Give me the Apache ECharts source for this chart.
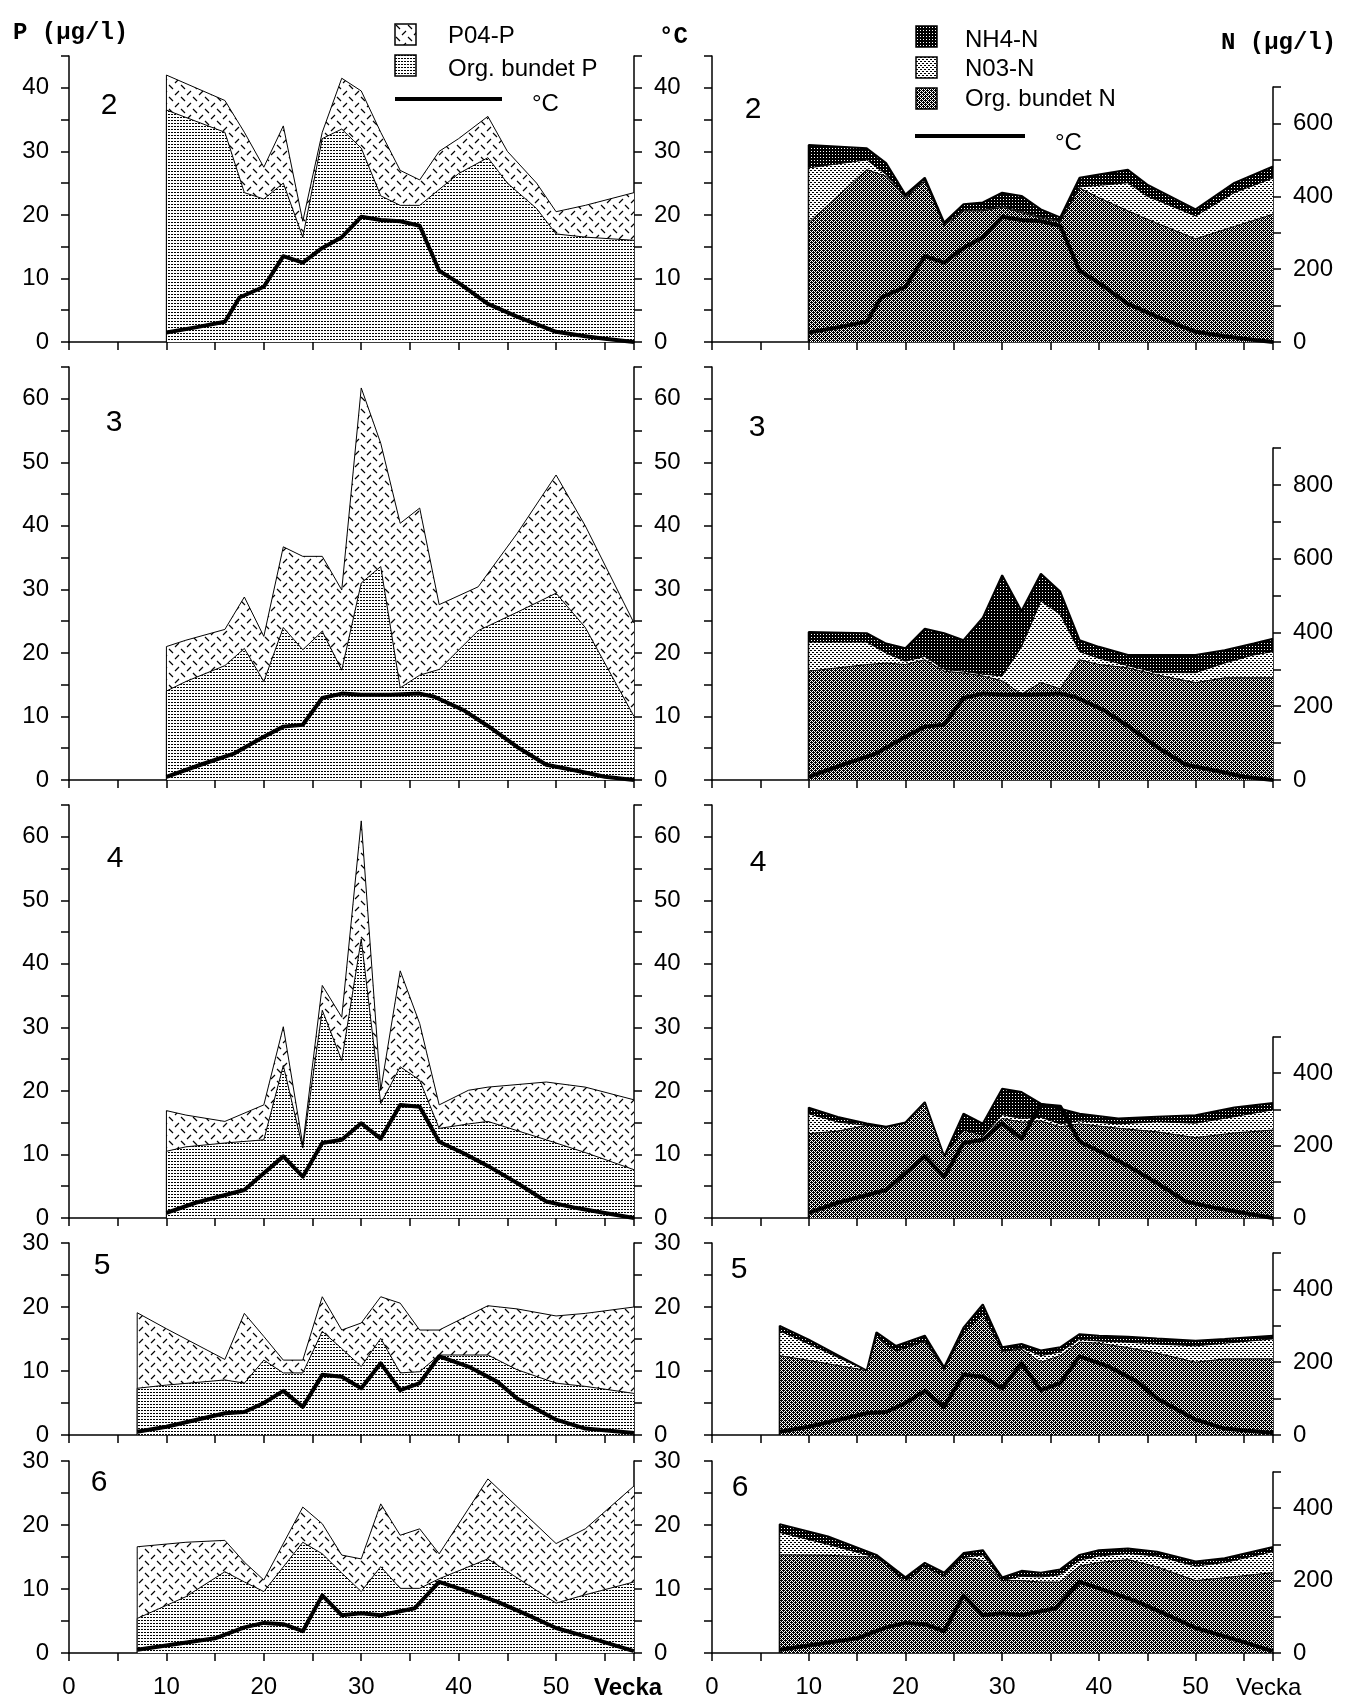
<!DOCTYPE html>
<html>
<head>
<meta charset="utf-8">
<script src="https://cdn.jsdelivr.net/npm/echarts@6/dist/echarts.min.js"></script>
<style>
  html, body { margin: 0; padding: 0; background: #fff; }
  #main { width: 1354px; height: 1708px; }
</style>
</head>
<body>
<div id="main"></div>
<script>
// ---- station 2 ----
const pWeeks2 = [10, 16, 18, 20, 22, 24, 26, 28, 30, 32, 34, 36, 38, 40, 43, 45, 48, 50, 53, 58];
const orgP2 = [36.5, 33, 23.5, 22.5, 25, 16.5, 32, 33.5, 30.5, 23, 21.5, 21.5, 24, 26.5, 29, 25, 21, 17, 16.5, 16];
const po4P2 = [5.5, 5, 9.5, 5, 9, 2.5, 1, 8, 9, 10, 5.5, 4, 6, 5.5, 6.5, 5, 4, 3.5, 5, 7.5];
const nWeeks2 = [10, 16, 18, 20, 22, 24, 26, 28, 30, 32, 34, 36, 38, 40, 43, 45, 50, 54, 58];
const orgN2 = [328, 473, 455, 395, 442, 319, 360, 360, 370, 355, 340, 330, 423, 396, 360, 337, 283, 317, 351];
const no3N2 = [150, 27, 5, 3, 3, 3, 3, 3, 3, 3, 3, 3, 3, 34, 77, 63, 63, 93, 99];
const nh4N2 = [63, 32, 31, 7, 6, 6, 15, 20, 37, 43, 21, 9, 25, 30, 36, 32, 18, 27, 32];
const tWeeks2 = [10, 13, 16, 17.5, 20, 22, 24, 26, 28, 30, 32, 34, 36, 38, 40, 43, 46, 50, 53, 55, 58];
const temp2 = [1.5, 2.3, 3.2, 7, 8.7, 13.5, 12.5, 14.8, 16.5, 19.7, 19.2, 19, 18.3, 11.2, 9.3, 6, 4, 1.6, 0.9, 0.5, 0];

// ---- station 3 ----
const pWeeks3 = [10, 12, 16, 18, 20, 22, 24, 26, 28, 30, 32, 34, 36, 38, 42, 46, 50, 53, 58];
const orgP3 = [14, 15.5, 18, 20.7, 15.5, 24, 20.5, 23.4, 17.3, 31, 33.6, 14.5, 16.5, 17.4, 23.5, 26.4, 29.4, 24, 10];
const po4P3 = [7, 6.5, 5.7, 8.1, 7.1, 12.7, 14.7, 11.8, 12.6, 30.7, 19.4, 25.9, 26.3, 10.2, 6.9, 12.4, 18.6, 16, 14.7];
const nWeeks3 = [10, 16, 18, 20, 22, 24, 26, 28, 30, 32, 34, 36, 38, 40, 43, 46, 50, 53, 56, 58];
const orgN3 = [295, 313, 317, 313, 326, 295, 290, 282, 269, 233, 264, 247, 326, 313, 304, 285, 264, 277, 277, 277];
const no3N3 = [79, 61, 27, 9, 9, 5, 5, 5, 13, 128, 221, 202, 22, 17, 6, 6, 27, 40, 62, 71];
const nh4N3 = [27, 24, 26, 35, 75, 98, 84, 153, 273, 97, 74, 62, 31, 31, 29, 48, 48, 35, 31, 35];
const tWeeks3 = [10, 13.5, 17, 20, 22, 24, 26, 28, 30, 33, 36, 37.5, 40.5, 43, 46, 49, 52, 55, 58];
const temp3 = [0.5, 2.4, 4.2, 6.8, 8.4, 8.7, 12.9, 13.6, 13.4, 13.4, 13.6, 13.1, 11, 8.5, 5.2, 2.4, 1.5, 0.5, 0];

// ---- station 4 ----
const pWeeks4 = [10, 12, 16, 20, 22, 24, 26, 28, 30, 32, 34, 36, 38, 41, 43, 49, 53, 58];
const orgP4 = [10.5, 11.2, 11.8, 12.3, 24, 11, 32.7, 24.8, 43.9, 18, 23.8, 21.7, 14.1, 14.8, 15.2, 12.3, 10.3, 7.6];
const po4P4 = [6.4, 5, 3.4, 5.5, 6.1, 0.5, 3.9, 6.8, 18.6, 2.1, 15.1, 8.9, 3.7, 5.3, 5.4, 9.1, 10.3, 11];
const nWeeks4 = [10, 13, 16, 18, 20, 22, 24, 26, 28, 30, 32, 34, 36, 38, 42, 46, 50, 54, 58];
const orgN4 = [233, 240, 256, 250, 262, 316, 170, 243, 229, 275, 265, 268, 252, 260, 248, 238, 222, 235, 243];
const no3N4 = [55, 25, 0, 0, 0, 0, 0, 0, 0, 10, 10, 10, 8, 8, 12, 28, 40, 45, 56];
const nh4N4 = [17, 14, 5, 2, 2, 4, 0, 45, 32, 72, 73, 38, 42, 20, 15, 14, 22, 25, 19];
const tWeeks4 = [10, 13, 18, 22, 24, 26, 28, 30, 32, 34, 36, 38, 40.5, 43, 46, 49, 52, 55, 58];
const temp4 = [0.8, 2.4, 4.4, 9.7, 6.5, 11.8, 12.3, 14.9, 12.5, 17.8, 17.5, 12, 10.2, 8.2, 5.5, 2.6, 1.6, 0.8, 0];

// ---- station 5 ----
const pWeeks5 = [7, 10, 16, 18, 20, 22, 24, 26, 28, 30, 32, 34, 36, 38, 43, 46, 50, 53, 58];
const orgP5 = [7.3, 7.8, 8.6, 8.1, 11.7, 9.7, 9.7, 16.2, 13.5, 10.7, 15.1, 9.7, 9.9, 12.5, 12.5, 10.2, 8.1, 7.6, 6.5];
const po4P5 = [11.8, 8.8, 3.2, 10.9, 3.7, 2, 2, 5.4, 2.9, 6.8, 6.5, 10.9, 6.5, 3.9, 7.7, 9.5, 10.5, 11.4, 13.5];
const nWeeks5 = [7, 10, 16, 17, 19, 22, 24, 26, 28, 30, 32, 34, 36, 38, 40, 43, 46, 50, 53, 58];
const orgN5 = [218, 205, 177, 270, 230, 258, 180, 280, 335, 230, 236, 200, 218, 255, 252, 240, 225, 200, 209, 209];
const no3N5 = [68, 45, 0, 0, 0, 0, 0, 0, 0, 0, 4, 18, 10, 8, 6, 15, 25, 45, 43, 55];
const nh4N5 = [14, 12, 0, 12, 15, 15, 6, 15, 24, 11, 10, 14, 13, 14, 15, 15, 15, 14, 12, 9];
const tWeeks5 = [7, 10, 16, 18, 20, 22, 24, 26, 28, 30, 32, 34, 36, 38, 41, 44, 46, 50, 53, 58];
const temp5 = [0.5, 1.3, 3.4, 3.6, 5, 6.9, 4.4, 9.4, 9.1, 7.3, 11.2, 7, 8.1, 12.3, 10.7, 8.3, 5.7, 2.4, 1, 0.3];

// ---- station 6 ----
const pWeeks6 = [7, 12, 16, 18, 20, 24, 26, 28, 30, 32, 34, 36, 38, 43, 50, 53, 58];
const orgP6 = [5.4, 8.8, 12.7, 11.1, 9.6, 17.3, 15.5, 12.5, 9.6, 13.5, 10.1, 10.1, 11.6, 14.7, 7.8, 9.1, 11.1];
const po4P6 = [11.2, 8.5, 4.9, 3.1, 1.8, 5.5, 4.7, 2.8, 5.1, 9.8, 8.3, 9.3, 3.9, 12.5, 9.3, 10.3, 15];
const nWeeks6 = [7, 12, 17, 20, 22, 24, 26, 28, 30, 32, 34, 36, 38, 40, 43, 46, 50, 53, 58];
const orgN6 = [271, 270, 264, 198, 238, 212, 264, 255, 200, 200, 196, 196, 240, 250, 258, 238, 200, 208, 222];
const no3N6 = [62, 30, 0, 0, 0, 0, 0, 16, 0, 12, 14, 20, 16, 18, 17, 30, 40, 42, 58];
const nh4N6 = [23, 22, 7, 11, 11, 10, 12, 13, 9, 15, 12, 15, 15, 16, 14, 12, 13, 12, 13];
const tWeeks6 = [7, 10.5, 15, 18, 20, 22, 24, 26, 28, 30, 32, 35.5, 38, 41, 44, 47, 50, 53, 58];
const temp6 = [0.5, 1.3, 2.3, 4, 4.7, 4.5, 3.4, 9, 5.9, 6.2, 5.9, 7, 11.1, 9.6, 8, 6, 3.9, 2.6, 0.3];

const FONT = '"Liberation Sans", Arial, sans-serif';
const MONO = '"Liberation Mono", "DejaVu Sans Mono", monospace';

// little bitmap tiles for the old-style fill patterns
function dotTile(w, h, bg, fg, dots) {
    const c = document.createElement('canvas');
    c.width = w; c.height = h;
    const ctx = c.getContext('2d');
    ctx.fillStyle = bg;
    ctx.fillRect(0, 0, w, h);
    ctx.fillStyle = fg;
    dots.forEach(d => ctx.fillRect(d[0], d[1], 1, 1));
    return { image: c, repeat: 'repeat' };
}
function hatchTile() {
    const c = document.createElement('canvas');
    c.width = 12; c.height = 12;
    const ctx = c.getContext('2d');
    ctx.fillStyle = '#fff';
    ctx.fillRect(0, 0, 12, 12);
    ctx.strokeStyle = '#000';
    ctx.lineWidth = 1.2;
    ctx.beginPath();
    ctx.moveTo(1, 1); ctx.lineTo(5, 5);
    ctx.moveTo(7, 11); ctx.lineTo(11, 7);
    ctx.stroke();
    return { image: c, repeat: 'repeat' };
}
const patOrgP = dotTile(3, 3, '#fff', '#000', [[0, 0], [1, 0]]);
const patPO4 = hatchTile();
const patOrgN = dotTile(4, 4, '#fff', '#000', [[0, 0], [2, 0], [1, 1], [3, 1], [0, 2], [2, 2], [1, 3], [3, 3], [1, 0], [3, 2]]);
const patNO3 = dotTile(4, 4, '#fff', '#000', [[0, 0], [1, 0], [2, 2], [3, 2]]);
const patNH4 = dotTile(3, 3, '#000', '#fff', [[1, 1]]);

const rows = [
    { tag: '2', top: 56, bottom: 342, nTop: 87, pMax: 45, nMax: 700,
      pW: pWeeks2, org: orgP2, po4: po4P2, nW: nWeeks2, orgN: orgN2, no3: no3N2, nh4: nh4N2, tW: tWeeks2, t: temp2,
      tagL: [109, 106], tagR: [753, 110] },
    { tag: '3', top: 367, bottom: 780, nTop: 448, pMax: 65, nMax: 900,
      pW: pWeeks3, org: orgP3, po4: po4P3, nW: nWeeks3, orgN: orgN3, no3: no3N3, nh4: nh4N3, tW: tWeeks3, t: temp3,
      tagL: [114, 423], tagR: [757, 428] },
    { tag: '4', top: 805, bottom: 1218, nTop: 1037, pMax: 65, nMax: 500,
      pW: pWeeks4, org: orgP4, po4: po4P4, nW: nWeeks4, orgN: orgN4, no3: no3N4, nh4: nh4N4, tW: tWeeks4, t: temp4,
      tagL: [115, 859], tagR: [758, 863] },
    { tag: '5', top: 1243, bottom: 1435, nTop: 1253, pMax: 30, nMax: 500,
      pW: pWeeks5, org: orgP5, po4: po4P5, nW: nWeeks5, orgN: orgN5, no3: no3N5, nh4: nh4N5, tW: tWeeks5, t: temp5,
      tagL: [102, 1266], tagR: [739, 1270] },
    { tag: '6', top: 1461, bottom: 1653, nTop: 1472, pMax: 30, nMax: 500,
      pW: pWeeks6, org: orgP6, po4: po4P6, nW: nWeeks6, orgN: orgN6, no3: no3N6, nh4: nh4N6, tW: tWeeks6, t: temp6,
      tagL: [99, 1483], tagR: [740, 1488] }
];

const LEFT_COL = { x: 69, w: 565 };
const RIGHT_COL = { x: 712, w: 561 };
const BLACK = { color: '#000', width: 1.5 };

function xAxisFor(g, showLabels, hidden) {
    return {
        type: 'value', gridIndex: g, min: 0, max: 58, interval: 5, show: !hidden,
        axisLine: { show: true, onZero: false, lineStyle: BLACK },
        axisTick: { show: true, length: 8, lineStyle: BLACK },
        axisLabel: {
            show: showLabels, margin: 22, color: '#000', fontFamily: FONT, fontSize: 24,
            formatter: v => (v % 10 === 0 && v <= 50) ? String(v) : ''
        },
        splitLine: { show: false }
    };
}
function yAxisFor(g, pos, max, step, showLabels) {
    return {
        type: 'value', gridIndex: g, position: pos, min: 0, max: max, interval: step / 2,
        axisLine: { show: true, onZero: false, lineStyle: BLACK },
        axisTick: { show: true, length: 8, lineStyle: BLACK },
        axisLabel: {
            show: showLabels, margin: 20, color: '#000', fontFamily: FONT, fontSize: 24,
            formatter: v => (v % step === 0) ? String(v) : ''
        },
        splitLine: { show: false }
    };
}
// running sums, so the layers can be painted top-down (each filled to zero)
function addUp(...parts) {
    return parts[0].map((_, k) => parts.reduce((s, p) => s + p[k], 0));
}
function areaSeries(xi, yi, weeks, vals, pat, lw, z) {
    // first point at zero closes the left edge of the filled block
    const data = [[weeks[0], 0]].concat(weeks.map((w, k) => [w, vals[k]]));
    return {
        type: 'line', xAxisIndex: xi, yAxisIndex: yi, data: data,
        symbol: 'none', silent: true, z: z,
        lineStyle: { color: '#000', width: lw },
        areaStyle: { color: pat, opacity: 1 }
    };
}
function tempSeries(xi, yi, weeks, vals) {
    return {
        type: 'line', xAxisIndex: xi, yAxisIndex: yi, data: weeks.map((w, k) => [w, vals[k]]),
        symbol: 'none', silent: true, z: 10,
        lineStyle: { color: '#000', width: 4, join: 'round' }
    };
}

const grid = [], xAxis = [], yAxis = [], series = [], graphic = [];
function addGrid(col, top, bottom) {
    grid.push({ left: col.x, top: top, width: col.w, height: bottom - top,
                containLabel: false, outerBoundsMode: 'none' });
    return grid.length - 1;
}
function txt(x, y, text, font, align) {
    graphic.push({ type: 'text', x: x, y: y, silent: true, z: 100,
        style: { text: text, font: font, fill: '#000', align: align || 'left', verticalAlign: 'middle' } });
}

rows.forEach((r, i) => {
    const last = i === rows.length - 1;
    // left: phosphorus
    let g = addGrid(LEFT_COL, r.top, r.bottom);
    xAxis.push(xAxisFor(g, last, false));
    const yP = yAxis.length; yAxis.push(yAxisFor(g, 'left', r.pMax, 10, true));
    const yT = yAxis.length; yAxis.push(yAxisFor(g, 'right', r.pMax, 10, true));
    series.push(areaSeries(g, yP, r.pW, addUp(r.org, r.po4), patPO4, 1, 2));
    series.push(areaSeries(g, yP, r.pW, r.org, patOrgP, 1, 3));
    series.push(tempSeries(g, yT, r.tW, r.t));

    // right: temperature scale
    g = addGrid(RIGHT_COL, r.top, r.bottom);
    xAxis.push(xAxisFor(g, last, false));
    const yT2 = yAxis.length; yAxis.push(yAxisFor(g, 'left', r.pMax, 10, false));
    series.push(tempSeries(g, yT2, r.tW, r.t));

    // right: nitrogen scale (shorter axis, same baseline)
    g = addGrid(RIGHT_COL, r.nTop, r.bottom);
    xAxis.push(xAxisFor(g, false, true));
    const yN = yAxis.length; yAxis.push(yAxisFor(g, 'right', r.nMax, 200, true));
    series.push(areaSeries(g, yN, r.nW, addUp(r.orgN, r.no3, r.nh4), patNH4, 2, 2));
    series.push(areaSeries(g, yN, r.nW, addUp(r.orgN, r.no3), patNO3, 1, 3));
    series.push(areaSeries(g, yN, r.nW, r.orgN, patOrgN, 1, 4));

    txt(r.tagL[0], r.tagL[1], r.tag, '30px ' + FONT, 'center');
    txt(r.tagR[0], r.tagR[1], r.tag, '30px ' + FONT, 'center');
});

// headings
txt(13, 33, 'P (µg/l)', 'bold 24px ' + MONO);
txt(659, 37, '°C', 'bold 24px ' + MONO);
txt(1221, 43, 'N (µg/l)', 'bold 24px ' + MONO);
txt(594, 1688, 'Vecka', 'bold 24px ' + FONT);
txt(1236, 1688, 'Vecka', '24px ' + FONT);

// legend, phosphorus
function box(x, y, pat) {
    graphic.push({ type: 'rect', x: x, y: y, silent: true, z: 100, shape: { width: 21, height: 21 },
        style: { fill: pat, stroke: '#000', lineWidth: 1.5 } });
}
box(395, 24, patPO4); txt(448, 36, 'P04-P', '24px ' + FONT);
box(395, 55, patOrgP); txt(448, 69, 'Org. bundet P', '24px ' + FONT);
graphic.push({ type: 'line', silent: true, z: 100, shape: { x1: 395, y1: 99, x2: 502, y2: 99 },
    style: { stroke: '#000', lineWidth: 4 } });
txt(532, 104, '°C', '24px ' + FONT);

// legend, nitrogen
box(916, 26, patNH4); txt(965, 40, 'NH4-N', '24px ' + FONT);
box(916, 57, patNO3); txt(965, 69, 'N03-N', '24px ' + FONT);
box(916, 88, patOrgN); txt(965, 99, 'Org. bundet N', '24px ' + FONT);
graphic.push({ type: 'line', silent: true, z: 100, shape: { x1: 915, y1: 136, x2: 1025, y2: 136 },
    style: { stroke: '#000', lineWidth: 4 } });
txt(1055, 143, '°C', '24px ' + FONT);

let myChart = echarts.init(document.getElementById('main'));
let option = {
    animation: false,
    backgroundColor: '#fff',
    grid: grid,
    xAxis: xAxis,
    yAxis: yAxis,
    series: series,
    graphic: graphic
};
option && myChart.setOption(option);
</script>
</body>
</html>
